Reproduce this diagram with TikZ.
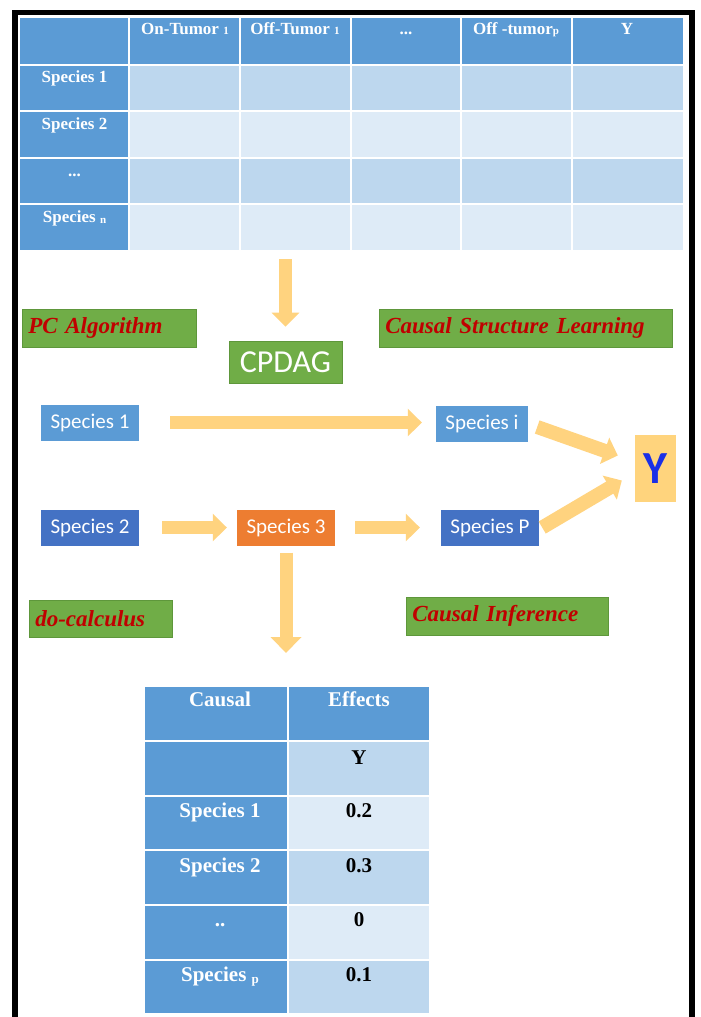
\documentclass[tikz,border=0pt]{standalone}
\usepackage{fontspec}
\setmainfont{Liberation Serif}
\newfontfamily\carl{Carlito}
\usetikzlibrary{arrows.meta,calc}
\definecolor{hdr}{HTML}{5B9BD5}
\definecolor{rowA}{HTML}{BDD7EE}
\definecolor{rowB}{HTML}{DEEBF7}
\definecolor{grn}{HTML}{70AD47}
\definecolor{grnedge}{HTML}{5E973B}
\definecolor{dred}{HTML}{C00000}
\definecolor{blueA}{HTML}{5B9BD5}
\definecolor{blueB}{HTML}{4472C4}
\definecolor{orng}{HTML}{ED7D31}
\definecolor{arr}{HTML}{FFD37F}
\definecolor{ybox}{HTML}{FFD47D}
\definecolor{yblue}{HTML}{1A2FE6}
\newcommand\smallsub[1]{\raisebox{-1pt}{\fontsize{11}{11}\selectfont #1}}
\newcommand\bigsub[1]{\raisebox{-2pt}{\fontsize{13}{13}\selectfont #1}}
\tikzset{
  tt/.style={font=\bfseries\fontsize{17}{20}\selectfont, text=white, inner sep=0,
    text height=11.5, text depth=3.5},
  bt/.style={font=\bfseries\fontsize{21}{24}\selectfont, inner sep=0,
    text height=14, text depth=4.5},
  tag/.style={fill=grn, draw=grnedge, line width=0.6, anchor=north west,
    font=\bfseries\itshape\fontsize{23}{26}\selectfont, text=dred,
    inner xsep=6, inner ysep=0, align=left},
  spbox/.style={font=\carl\fontsize{21}{24}\selectfont, text=white,
    minimum width=98, minimum height=36, inner sep=0},
  blk/.style={draw=arr, line width=13,
    -{Triangle[length=14pt 0 0, width=27pt 0 0]}},
  grid/.style={draw=white, line width=1.6},
}
\begin{document}
\begin{tikzpicture}[x=1pt,y=-1pt]
\useasboundingbox (0,0) rectangle (701,1017);
\fill[white] (0,0) rectangle (701,1017);
% ---------- top table ----------
\fill[hdr] (20,18) rectangle (683,65);
\fill[hdr] (20,65) rectangle (129,250);
\fill[rowA] (129,65) rectangle (683,111);
\fill[rowB] (129,111) rectangle (683,158);
\fill[rowA] (129,158) rectangle (683,204);
\fill[rowB] (129,204) rectangle (683,250);
\foreach \yy in {65,111,158,204} \draw[grid] (20,\yy) -- (683,\yy);
\foreach \xx in {129,240,351,461,572} \draw[grid] (\xx,18) -- (\xx,250);
\node[inner sep=0, minimum width=663, minimum height=232, anchor=north west] (tab1) at (20,18) {};
\node[tt] (h1) at (185,30) {On-Tumor \smallsub{1}};
\node[tt] (h2) at (295,30) {Off-Tumor \smallsub{1}};
\node[tt] (h3) at (406,30) {...};
\node[tt] (h4) at (516,30) {Off -tumor\smallsub{p}};
\node[tt] (h5) at (627,30) {Y};
\node[tt] (r1) at (74.5,78) {Species 1};
\node[tt] (r2) at (74.5,125) {Species 2};
\node[tt] (r3) at (74.5,172.5) {...};
\node[tt] (r4) at (74.5,218) {Species \smallsub{n}};
% ---------- middle ----------
\node[tag, text width=162, minimum height=38] (pc) at (22,309) {PC Algorithm};
\node[tag, text width=281, minimum height=38] (csl) at (379,309) {Causal Structure Learning};
\node[fill=grn, draw=grnedge, line width=0.6, text=white, font=\carl\fontsize{32}{34}\selectfont,
  minimum width=113, minimum height=42, inner sep=0] (cp) at (285.5,362) {CPDAG};
\node[spbox, fill=blueA] (s1) at (90,422.5) {Species 1};
\node[spbox, fill=blueA, minimum width=92] (si) at (482,424) {Species i};
\node[spbox, fill=blueB] (s2) at (90,527.5) {Species 2};
\node[spbox, fill=orng] (s3) at (286,527.5) {Species 3};
\node[spbox, fill=blueB] (sp) at (490,527.5) {Species P};
\node[fill=ybox, text=yblue, font=\carl\bfseries\fontsize{46}{48}\selectfont,
  minimum width=41, minimum height=67, inner sep=0] (yy) at (655.5,468.5) {Y};
\node[tag, text width=131, minimum height=37] (doc) at (29,600) {do-calculus};
\node[tag, text width=190, minimum height=38] (ci) at (406,597) {Causal Inference};
% ---------- bottom table ----------
\fill[hdr] (145,687) rectangle (429,741);
\fill[hdr] (145,741) rectangle (288,1013);
\fill[rowA] (288,741) rectangle (429,796);
\fill[rowB] (288,796) rectangle (429,850);
\fill[rowA] (288,850) rectangle (429,905);
\fill[rowB] (288,905) rectangle (429,960);
\fill[rowA] (288,960) rectangle (429,1013);
\foreach \yy in {741,796,850,905,960} \draw[grid] (145,\yy) -- (429,\yy);
\draw[grid] (288,687) -- (288,1013);
\node[inner sep=0, minimum width=284, minimum height=326, anchor=north west] (tab2) at (145,687) {};
\node[bt, text=white] (c1) at (220,702) {Causal};
\node[bt, text=white] (c2) at (359,702) {Effects};
\node[bt] (e0) at (359,760) {Y};
\node[bt, text=white] (l1) at (220,813) {Species 1};
\node[bt] (e1) at (359,813) {0.2};
\node[bt, text=white] (l2) at (220,868) {Species 2};
\node[bt] (e2) at (359,868) {0.3};
\node[bt, text=white] (l3) at (220,922) {..};
\node[bt] (e3) at (359,922) {0};
\node[bt, text=white] (l4) at (220,977) {Species \bigsub{p}};
\node[bt] (e4) at (359,977) {0.1};
% ---------- arrows ----------
\draw[blk, shorten <=9, shorten >=14] (tab1.south -| cp.north) -- (cp.north);
\draw[blk, shorten <=31, shorten >=14] (s1.east) -- (s1.east -| si.west);
\draw[blk, shorten <=23, shorten >=10] (s2.east) -- (s3.west);
\draw[blk, shorten <=20, shorten >=21] (s3.east) -- (sp.west);
\draw[blk, -{Triangle[length=16pt 0 0, width=30pt 0 0]}, shorten <=7, shorten >=34] (s3.south) -- (s3.south |- tab2.north);
\coordinate (a1s) at ($(si.east)+(9,3)$);
\coordinate (a1e) at ($(yy.west)+(-17,-13)$);
\draw[blk, line width=14] (a1s) -- (a1e);
\coordinate (a2s) at ($(sp.east)+(3,0)$);
\coordinate (a2e) at ($(yy.west)+(-13,12)$);
\draw[blk, line width=14] (a2s) -- (a2e);
% ---------- frame ----------
\draw[line width=5.5] (15,1017) -- (15,12.5) -- (692,12.5) -- (692,1017);
\end{tikzpicture}
\end{document}
